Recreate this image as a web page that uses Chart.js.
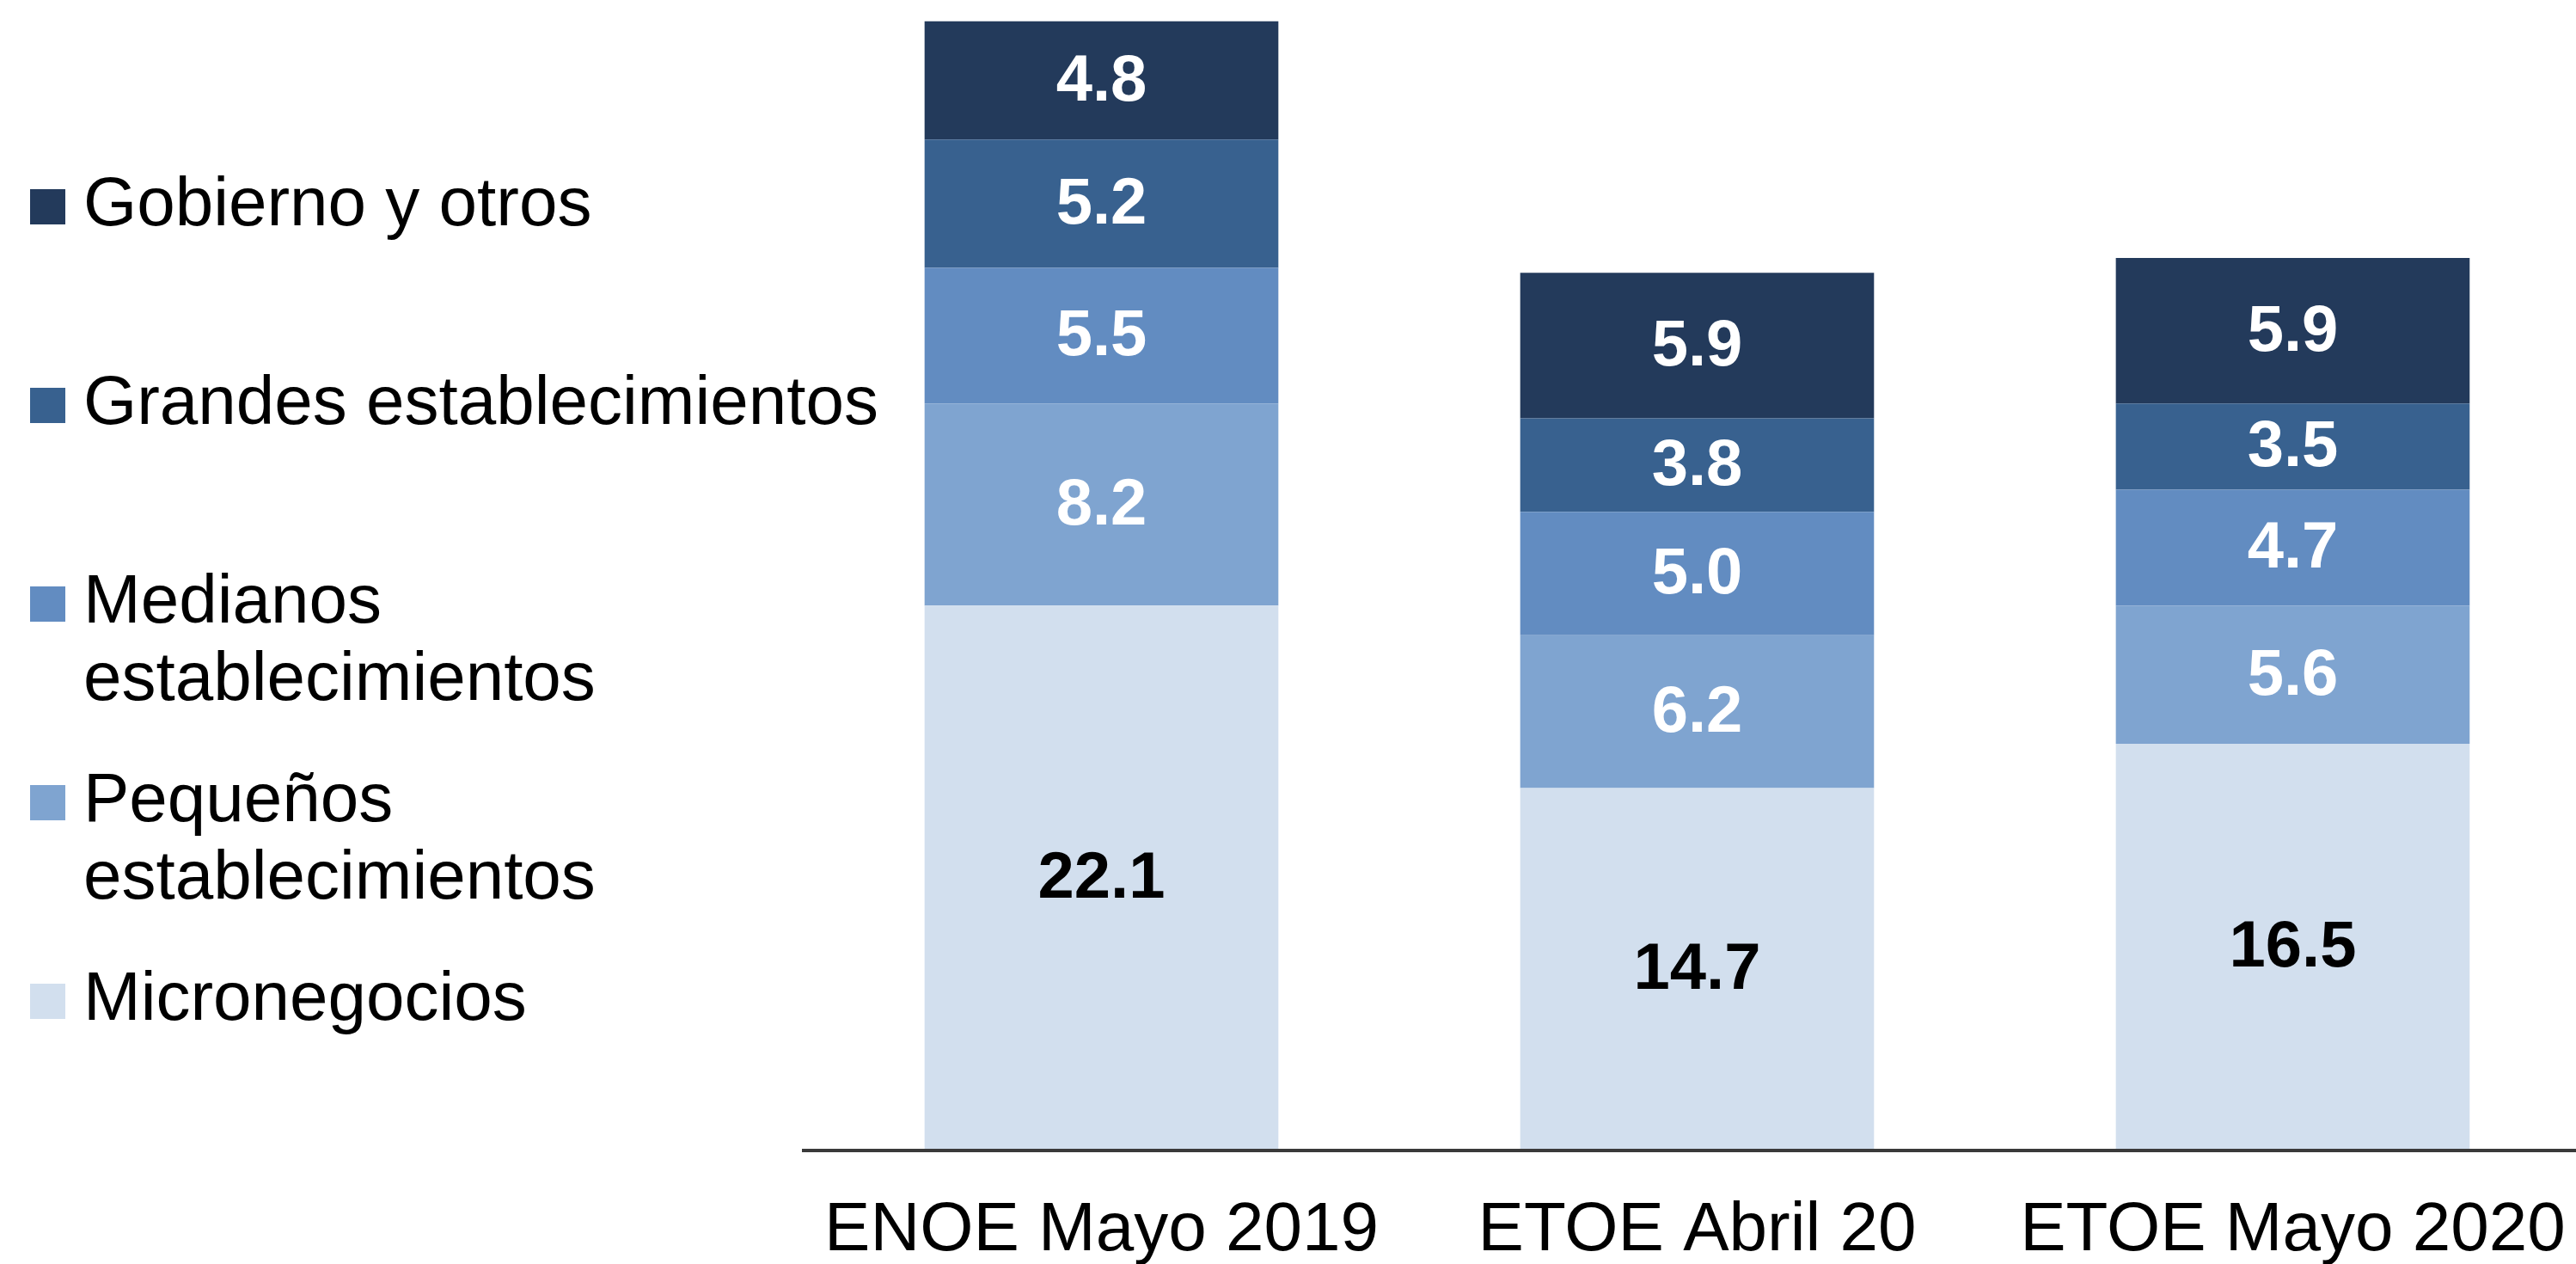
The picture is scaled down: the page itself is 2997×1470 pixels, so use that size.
<!DOCTYPE html>
<html>
<head>
<meta charset="utf-8">
<script src="https://cdn.jsdelivr.net/npm/chart.js@4/dist/chart.umd.min.js"></script>
<style>
  html, body { margin: 0; padding: 0; background: #ffffff; overflow: hidden; }
  #wrap { position: relative; width: 3042px; height: 1526px; }
  canvas { display: block; }
</style>
</head>
<body>
<div id="wrap"><canvas id="c" width="3042" height="1526"></canvas></div>
<script>
// ---- data ----
const categories = ['ENOE Mayo 2019', 'ETOE Abril 20', 'ETOE Mayo 2020'];
const micronegocios = [22.1, 14.7, 16.5];
const pequenos = [8.2, 6.2, 5.6];
const medianos = [5.5, 5.0, 4.7];
const grandes = [5.2, 3.8, 3.5];
const gobierno = [4.8, 5.9, 5.9];

const seriesNames = ['Micronegocios', 'Pequeños establecimientos', 'Medianos establecimientos', 'Grandes establecimientos', 'Gobierno y otros'];
const legendLines = [['Micronegocios'], ['Pequeños', 'establecimientos'], ['Medianos', 'establecimientos'], ['Grandes establecimientos'], ['Gobierno y otros']];
const seriesValues = [micronegocios, pequenos, medianos, grandes, gobierno];
const seriesColors = ['#D2DFEE', '#7FA4D0', '#628CC1', '#38618F', '#233A5B'];
const labelColors = ['#000000', '#FFFFFF', '#FFFFFF', '#FFFFFF', '#FFFFFF'];

const FONT = "'Liberation Sans', Arial, sans-serif";

const datasets = seriesNames.map((name, i) => ({
  label: name,
  data: seriesValues[i],
  backgroundColor: seriesColors[i],
  borderWidth: 0,
  barPercentage: 0.594,
  categoryPercentage: 1.0
}));

const valueLabels = {
  id: 'valueLabels',
  afterDatasetsDraw(chart) {
    const ctx = chart.ctx;
    ctx.save();
    ctx.font = 'bold 76px ' + FONT;
    ctx.textAlign = 'center';
    ctx.textBaseline = 'middle';
    chart.data.datasets.forEach((ds, di) => {
      const meta = chart.getDatasetMeta(di);
      ctx.fillStyle = labelColors[di];
      meta.data.forEach((el, j) => {
        const p = el.getProps(['x', 'y', 'base'], true);
        ctx.fillText(ds.data[j].toFixed(1), p.x, (p.y + p.base) / 2 + 2);
      });
    });
    ctx.restore();
  }
};

const sideLegend = {
  id: 'sideLegend',
  afterDraw(chart) {
    const ctx = chart.ctx;
    ctx.save();
    ctx.font = '80px ' + FONT;
    ctx.textAlign = 'left';
    ctx.textBaseline = 'alphabetic';
    const order = [4, 3, 2, 1, 0];
    order.forEach((di, k) => {
      const baseline = 262 + k * 231;
      ctx.fillStyle = seriesColors[di];
      ctx.fillRect(35, baseline - 42, 41, 41);
      ctx.fillStyle = '#000000';
      legendLines[di].forEach((line, li) => {
        ctx.fillText(line, 97, baseline + li * 90);
      });
    });
    ctx.restore();
  }
};

new Chart(document.getElementById('c'), {
  type: 'bar',
  data: { labels: categories, datasets: datasets },
  options: {
    responsive: false,
    animation: false,
    devicePixelRatio: 1,
    layout: { padding: { left: 935, right: 20, top: 19, bottom: 0 } },
    plugins: {
      legend: { display: false },
      tooltip: { enabled: false },
      title: { display: false }
    },
    scales: {
      x: {
        stacked: true,
        offset: true,
        grid: { display: false, drawTicks: false, tickLength: 0 },
        border: { display: true, color: '#3a3a3a', width: 4, z: 1 },
        ticks: {
          color: '#000000',
          font: { family: FONT, size: 80, lineHeight: 1.0 },
          padding: 54,
          maxRotation: 0,
          autoSkip: false
        }
      },
      y: {
        stacked: true,
        display: false,
        min: 0,
        max: 46
      }
    }
  },
  plugins: [valueLabels, sideLegend]
});
</script>
</body>
</html>
